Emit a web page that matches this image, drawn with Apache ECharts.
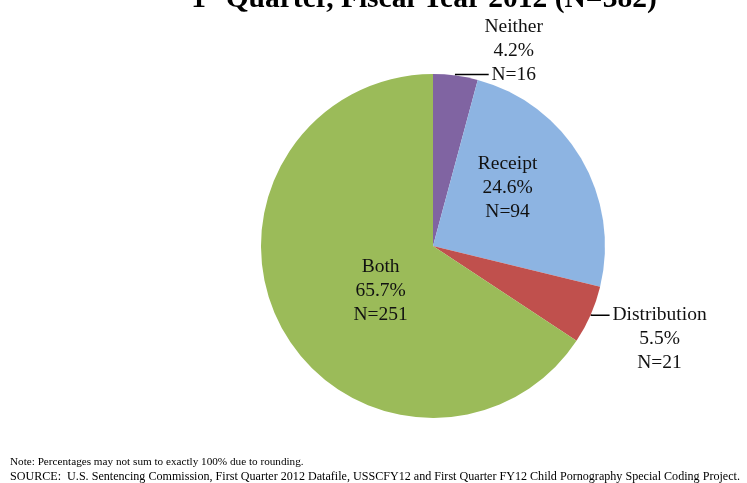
<!DOCTYPE html>
<html>
<head>
<meta charset="utf-8">
<script src="https://cdn.jsdelivr.net/npm/echarts@6/dist/echarts.min.js"></script>
<style>
html,body{margin:0;padding:0;background:#fff;}
#chart{width:747px;height:483px;}
</style>
</head>
<body>
<div id="chart"></div>
<script>
const categories = ['Neither', 'Receipt', 'Distribution', 'Both'];
const counts = [16, 94, 21, 251];
const percents = ['4.2%', '24.6%', '5.5%', '65.7%'];
const colors = ['#8064A2', '#8DB4E2', '#C0504D', '#9BBB59'];
const titleText = ['1', 'st', ' Quarter, Fiscal Year 2012 (N=382)'];
const noteLines = [
  'Note: Percentages may not sum to exactly 100% due to rounding.',
  'SOURCE:  U.S. Sentencing Commission, First Quarter 2012 Datafile, USSCFY12 and First Quarter FY12 Child Pornography Special Coding Project.'
];

const serif = '"Liberation Serif", "Times New Roman", serif';
const labelBase = { fontFamily: serif, fontSize: 19.5, lineHeight: 24, color: '#111' };

function itemLabel(i) {
  const lines = [categories[i], percents[i], 'N=' + counts[i]];
  if (i === 0 || i === 2) {
    const w = i === 0 ? 46 : 96;
    let parts = lines.map(l => '{c|' + l + '}');
    // blank lines so the leader line meets the right text line
    parts = i === 0 ? parts.concat(['{c|}', '{c|}']) : ['{c|}', '{c|}'].concat(parts);
    return { show: true, position: 'outside', formatter: parts.join('\n'), distanceToLabelLine: 2,
      rich: { c: { ...labelBase, width: w, align: 'center', height: 24 } } };
  }
  const txt = lines.join('\n');
  if (i === 1) {
    return { show: true, position: 'inside', formatter: txt, ...labelBase, offset: [-2, -13] };
  }
  return { show: true, position: 'inside', formatter: txt, ...labelBase, offset: [26, 3] };
}

const data = categories.map((c, i) => ({
  name: c,
  value: counts[i],
  itemStyle: { color: colors[i] },
  label: itemLabel(i),
  labelLine: i === 0 ? { show: true, length: 1, length2: 33, lineStyle: { color: '#000', width: 1.5 } }
           : i === 2 ? { show: true, length: 1, length2: 18, lineStyle: { color: '#000', width: 1.5 } }
           : { show: false }
}));

const chart = echarts.init(document.getElementById('chart'), null, { renderer: 'canvas' });
chart.setOption({
  backgroundColor: '#ffffff',
  animation: false,
  title: {
    text: '{a|' + titleText[0] + '}{s|' + titleText[1] + '}{a|' + titleText[2] + '}',
    left: 419, top: -21,
    textAlign: 'center',
    textStyle: {
      rich: {
        a: { fontFamily: serif, fontWeight: 'bold', fontSize: 29.5, color: '#000' },
        s: { fontFamily: serif, fontWeight: 'bold', fontSize: 17, color: '#000', verticalAlign: 'top', padding: [0, 0, 12, 0] }
      }
    }
  },
  series: [{
    type: 'pie',
    center: [433, 246],
    radius: 172,
    startAngle: 90,
    clockwise: true,
    avoidLabelOverlap: false,
    silent: true,
    data: data
  }],
  graphic: [
    { type: 'text', left: 10, top: 457, style: { text: noteLines[0], fontFamily: serif, fontSize: 11.2, fill: '#000' } },
    { type: 'text', left: 10, top: 471, style: { text: noteLines[1], fontFamily: serif, fontSize: 12.1, fill: '#000' } }
  ]
});
</script>
</body>
</html>
